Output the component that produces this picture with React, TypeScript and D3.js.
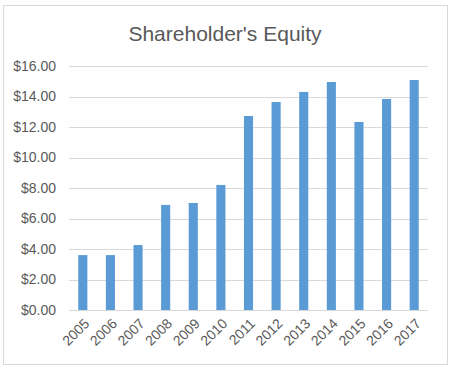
import React, { useRef, useEffect } from 'react';
import * as d3 from 'd3';

const years = ['2005', '2006', '2007', '2008', '2009', '2010', '2011', '2012', '2013', '2014', '2015', '2016', '2017'];
const equity = [3.6, 3.6, 4.26, 6.89, 7.02, 8.2, 12.72, 13.64, 14.3, 14.95, 12.33, 13.84, 15.08];
const yTicks = [0, 2, 4, 6, 8, 10, 12, 14, 16];

const W = 453;
const H = 372;

const App: React.FC = () => {
  const svgRef = useRef<SVGSVGElement>(null);

  useEffect(() => {
    if (!svgRef.current) return;
    const svg = d3.select(svgRef.current);
    svg.selectAll('*').remove();

    const font = "'Liberation Sans', Arial, sans-serif";
    const textColor = '#595959';

    // chart border
    svg.append('rect')
      .attr('x', 3.5).attr('y', 5.5)
      .attr('width', 444).attr('height', 359)
      .attr('fill', '#fff')
      .attr('stroke', '#d9d9d9');

    svg.append('text')
      .attr('x', 225).attr('y', 41)
      .attr('text-anchor', 'middle')
      .style('font-family', font)
      .style('font-size', '21px')
      .style('fill', textColor)
      .text("Shareholder's Equity");

    const x = d3.scaleBand<string>().domain(years).range([69, 428]).paddingInner(0.67).paddingOuter(0.335);
    const y = d3.scaleLinear().domain([0, 16]).range([310, 66]);

    // gridlines
    svg.append('g')
      .selectAll('line')
      .data(yTicks)
      .enter()
      .append('line')
      .attr('x1', 69).attr('x2', 428)
      .attr('y1', d => Math.round(y(d)) + 0.5)
      .attr('y2', d => Math.round(y(d)) + 0.5)
      .attr('stroke', '#d9d9d9');

    // y labels
    svg.append('g')
      .selectAll('text')
      .data(yTicks)
      .enter()
      .append('text')
      .attr('x', 56)
      .attr('y', d => y(d))
      .attr('dy', '0.35em')
      .attr('text-anchor', 'end')
      .style('font-family', font)
      .style('font-size', '14px')
      .style('fill', textColor)
      .text(d => '$' + d3.format('.2f')(d));

    // bars
    svg.append('g')
      .selectAll('rect')
      .data(equity)
      .enter()
      .append('rect')
      .attr('x', (d, i) => x(years[i]) as number)
      .attr('width', x.bandwidth())
      .attr('y', d => y(d))
      .attr('height', d => y(0) - y(d))
      .attr('fill', '#5b9bd5');

    // x labels
    svg.append('g')
      .selectAll('text')
      .data(years)
      .enter()
      .append('text')
      .attr('transform', d => {
        const cx = (x(d) as number) + x.bandwidth() / 2 + 4;
        return `translate(${cx},${321}) rotate(-45)`;
      })
      .attr('text-anchor', 'end')
      .attr('dy', '0.35em')
      .style('font-family', font)
      .style('font-size', '14px')
      .style('fill', textColor)
      .text(d => d);
  }, []);

  return (
    <svg ref={svgRef} width={W} height={H}
      style={{ position: 'absolute', left: 0, top: 0, display: 'block', background: '#fff' }} />
  );
};

export default App;
